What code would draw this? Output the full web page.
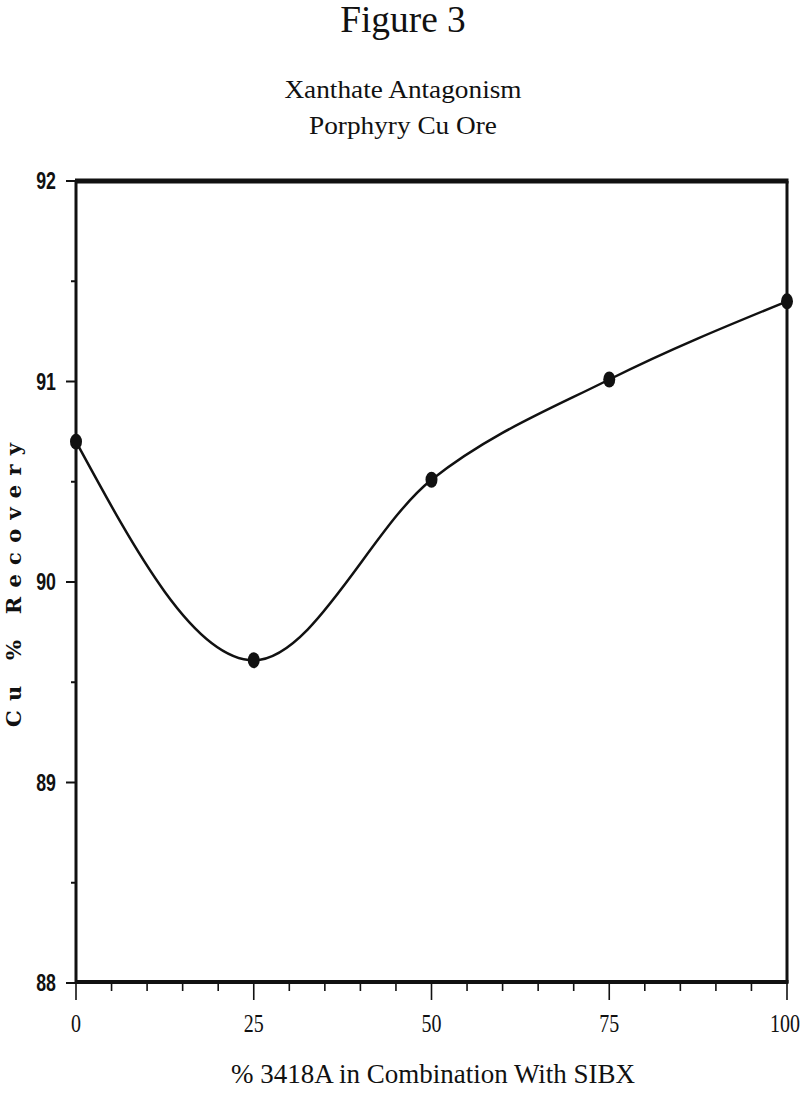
<!DOCTYPE html>
<html lang="en">
  <head>
    <meta charset="UTF-8" />
    <title>Figure 3</title>
    <script src="https://d3js.org/d3.v7.min.js"></script>
    <style>
      body {
        margin: 0;
        background: #fff;
      }
    </style>
  </head>
  <body>
    <div id="chart"></div>
    <script>
      // chart data
      const percent3418A = [0, 25, 50, 75, 100];
      const cuRecovery = [90.7, 89.61, 90.51, 91.01, 91.4];
      const xTickLabels = [0, 25, 50, 75, 100];
      const yTickLabels = [88, 89, 90, 91, 92];

      const width = 800;
      const height = 1097;
      const margin = { top: 181, right: 13, bottom: 114, left: 75 };

      const svg = d3
        .select("#chart")
        .append("svg")
        .attr("width", width)
        .attr("height", height);

      const x = d3
        .scaleLinear()
        .domain([0, 100])
        .range([margin.left + 1, width - margin.right]);
      const y = d3
        .scaleLinear()
        .domain([88, 92])
        .range([height - margin.bottom, margin.top]);

      const serif = "'Liberation Serif', 'DejaVu Serif', serif";

      // squeeze a text horizontally round its own x
      function squeeze(cx, s) {
        return `translate(${cx},0) scale(${s},1) translate(${-cx},0)`;
      }

      // titles
      svg
        .append("text")
        .attr("x", 403)
        .attr("y", 32)
        .attr("text-anchor", "middle")
        .attr("font-family", serif)
        .attr("font-size", 37)
        .attr("transform", squeeze(403, 1.01))
        .attr("fill", "#111")
        .text("Figure 3");

      const titleLines = ["Xanthate Antagonism", "Porphyry Cu Ore"];
      svg
        .selectAll(".title")
        .data(titleLines)
        .enter()
        .append("text")
        .attr("class", "title")
        .attr("x", 403)
        .attr("y", (d, i) => 98 + i * 36)
        .attr("text-anchor", "middle")
        .attr("font-family", serif)
        .attr("font-size", 26)
        .attr("transform", squeeze(403, 1.05))
        .attr("fill", "#111")
        .text((d) => d);

      // y axis minor + major ticks
      const yMinor = d3.range(88, 92.01, 0.5);
      svg
        .selectAll(".ytick")
        .data(yMinor)
        .enter()
        .append("line")
        .attr("x1", x(0))
        .attr("x2", (d) => (Number.isInteger(d) ? x(0) - 10 : x(0) - 5))
        .attr("y1", (d) => y(d))
        .attr("y2", (d) => y(d))
        .attr("stroke", "#111")
        .attr("stroke-width", 2);

      svg
        .selectAll(".ylab")
        .data(yTickLabels)
        .enter()
        .append("text")
        .attr("x", 56)
        .attr("y", (d) => y(d) + 8.5)
        .attr("text-anchor", "end")
        .attr("font-family", "'Liberation Sans', Arial, sans-serif")
        .attr("font-weight", "bold")
        .attr("font-size", 24)
        .attr("transform", squeeze(56, 0.74))
        .attr("fill", "#111")
        .text((d) => d);

      // x axis minor + major ticks
      const xMinor = d3.range(0, 100.01, 5);
      svg
        .selectAll(".xtick")
        .data(xMinor)
        .enter()
        .append("line")
        .attr("x1", (d) => x(d))
        .attr("x2", (d) => x(d))
        .attr("y1", y(88))
        .attr("y2", (d) => (d % 25 === 0 ? y(88) + 17 : y(88) + 8))
        .attr("stroke", "#111")
        .attr("stroke-width", 1.6);

      // the last label sits flush with the right edge, as in the figure
      const xLabelPos = (d) => (d === 100 ? x(d) - 17 : x(d));
      svg
        .selectAll(".xlab")
        .data(xTickLabels)
        .enter()
        .append("text")
        .attr("x", xLabelPos)
        .attr("y", 1032)
        .attr("text-anchor", (d) => (d === 100 ? "start" : "middle"))
        .attr("font-family", serif)
        .attr("font-size", 25)
        .attr("transform", (d) => squeeze(xLabelPos(d), 0.8))
        .attr("fill", "#111")
        .text((d) => d);

      // frame
      svg
        .append("line")
        .attr("x1", x(0))
        .attr("x2", x(0))
        .attr("y1", y(92))
        .attr("y2", y(88))
        .attr("stroke", "#111")
        .attr("stroke-width", 3);
      svg
        .append("line")
        .attr("x1", x(100))
        .attr("x2", x(100))
        .attr("y1", y(92))
        .attr("y2", y(88))
        .attr("stroke", "#111")
        .attr("stroke-width", 3);
      svg
        .append("line")
        .attr("x1", x(0) - 1)
        .attr("x2", x(100) + 1.5)
        .attr("y1", y(92))
        .attr("y2", y(92))
        .attr("stroke", "#111")
        .attr("stroke-width", 5);
      svg
        .append("line")
        .attr("x1", x(0) - 1)
        .attr("x2", x(100) + 1.5)
        .attr("y1", y(88) - 1)
        .attr("y2", y(88) - 1)
        .attr("stroke", "#111")
        .attr("stroke-width", 4);

      // curve
      const points = percent3418A.map((p, i) => [p, cuRecovery[i]]);
      const line = d3
        .line()
        .x((d) => x(d[0]))
        .y((d) => y(d[1]))
        .curve(d3.curveMonotoneX);

      svg
        .append("path")
        .datum(points)
        .attr("d", line)
        .attr("fill", "none")
        .attr("stroke", "#111")
        .attr("stroke-width", 2.5);

      svg
        .selectAll(".pt")
        .data(points)
        .enter()
        .append("ellipse")
        .attr("cx", (d) => x(d[0]))
        .attr("cy", (d) => y(d[1]))
        .attr("rx", 6)
        .attr("ry", 8)
        .attr("fill", "#111");

      // axis titles
      svg
        .append("text")
        .attr("transform", "translate(21,585) rotate(-90)")
        .attr("text-anchor", "middle")
        .attr("font-family", "'DejaVu Serif', serif")
        .attr("font-weight", "bold")
        .attr("font-size", 21)
        .attr("textLength", 284)
        .attr("lengthAdjust", "spacing")
        .attr("fill", "#111")
        .text("Cu % Recovery");

      svg
        .append("text")
        .attr("x", 433)
        .attr("y", 1083)
        .attr("text-anchor", "middle")
        .attr("font-family", serif)
        .attr("font-size", 27)
        .attr("fill", "#111")
        .text("% 3418A in Combination With SIBX");
    </script>
  </body>
</html>
